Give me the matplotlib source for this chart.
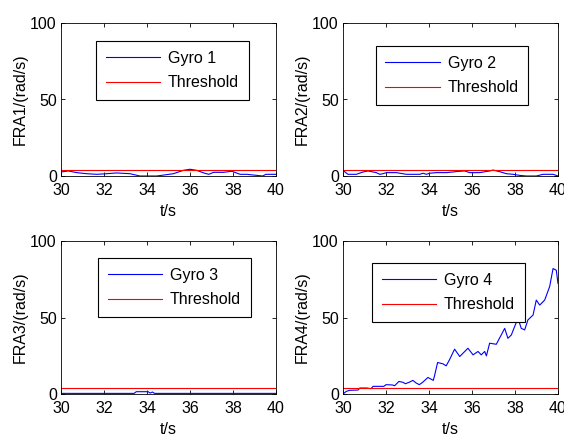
import matplotlib
matplotlib.use("Agg")
import matplotlib.pyplot as plt

plt.rcParams['font.family'] = ['Liberation Sans', 'DejaVu Sans']

threshold = 3.7
t1 = [30.0, 30.34, 30.73, 31.2, 31.66, 32.12, 32.59, 33.21, 33.67, 34.45, 35.23, 35.69, 36.0, 36.31, 36.64, 36.87, 37.1, 37.56, 37.95, 38.33, 38.64, 39.38, 39.53, 40.0]
g1 = [2.6, 3.3, 2.2, 1.5, 1.1, 1.5, 2.0, 1.5, 0.0, 0.0, 1.5, 3.7, 4.4, 3.7, 2.0, 1.1, 2.4, 2.4, 3.1, 1.1, 1.1, 0.0, 1.1, 1.1]
t2 = [30.0, 30.23, 30.62, 30.93, 31.16, 31.55, 31.71, 31.86, 32.02, 32.48, 32.95, 33.57, 33.72, 33.88, 34.03, 34.34, 34.81, 35.43, 35.66, 35.89, 36.36, 36.82, 36.98, 37.29, 37.6, 37.91, 38.22, 38.53, 38.99, 39.3, 39.77, 40.0]
g2 = [3.7, 1.1, 1.1, 2.6, 3.3, 2.2, 1.1, 1.5, 2.2, 2.2, 1.1, 1.1, 1.8, 1.1, 1.8, 2.2, 2.2, 3.1, 3.3, 2.2, 2.2, 3.3, 3.9, 2.8, 1.5, 1.1, 0.4, 0.0, 0.0, 1.1, 1.1, 0.0]
t3 = [30.0, 33.4, 33.5, 34.05, 34.15, 34.25, 34.35, 34.45, 40.0]
g3 = [0.4, 0.4, 1.5, 1.5, 0.6, 1.3, 0.4, 0.4, 0.4]
t4 = [30.0, 30.15, 30.3, 30.7, 30.78, 31.1, 31.3, 31.4, 31.7, 31.9, 32.0, 32.3, 32.4, 32.6, 32.8, 32.9, 33.1, 33.25, 33.4, 33.55, 33.7, 33.95, 34.2, 34.25, 34.4, 34.65, 34.8, 34.95, 35.19, 35.43, 35.81, 36.05, 36.28, 36.43, 36.59, 36.67, 36.82, 37.13, 37.36, 37.52, 37.67, 37.83, 37.98, 38.14, 38.29, 38.45, 38.6, 38.84, 38.99, 39.15, 39.38, 39.61, 39.77, 39.92, 40.0]
g4 = [0.0, 1.7, 2.4, 2.6, 3.9, 3.9, 3.5, 5.0, 5.0, 5.0, 6.1, 5.9, 5.4, 8.2, 7.6, 6.7, 7.8, 8.9, 7.2, 6.1, 7.6, 10.8, 8.9, 11.5, 20.6, 19.7, 18.4, 22.3, 29.3, 24.5, 29.9, 25.6, 27.8, 25.6, 27.8, 24.9, 33.2, 32.5, 38.6, 42.9, 36.4, 38.6, 44.0, 49.5, 42.9, 41.9, 48.4, 51.6, 61.4, 58.1, 61.4, 70.1, 82.0, 80.9, 72.2]

series = [(t1, g1, "Gyro 1", "FRA1/(rad/s)"),
          (t2, g2, "Gyro 2", "FRA2/(rad/s)"),
          (t3, g3, "Gyro 3", "FRA3/(rad/s)"),
          (t4, g4, "Gyro 4", "FRA4/(rad/s)")]
xticks = [30, 32, 34, 36, 38, 40]
yticks = [0, 50, 100]

W, H = 564, 438
fig = plt.figure(figsize=(W / 100, H / 100), dpi=100)
boxes = [(61, 23), (343, 23), (61, 241), (343, 241)]
legpos = [(0.163, 0.882), (0.153, 0.850), (0.172, 0.889), (0.135, 0.856)]
for (t, g, name, ylab), (lx, ty), lp in zip(series, boxes, legpos):
    ax = fig.add_axes([lx / W, 1 - (ty + 153) / H, 215 / W, 153 / H])
    ax.plot(t, g, color='#0000ff', lw=0.8, label=name)
    ax.axhline(threshold, color='#ff0000', lw=0.8, label='Threshold')
    ax.set_xlim(30, 40)
    ax.set_ylim(0, 100)
    ax.set_xticks(xticks)
    ax.set_yticks(yticks)
    ax.tick_params(direction='in', top=True, right=True, length=3, width=0.6,
                   labelsize=11.5)
    ax.tick_params(axis='x', pad=5)
    ax.tick_params(axis='y', pad=3)
    for s in ax.spines.values():
        s.set_linewidth(0.6)
    ax.set_xlabel('t/s', fontsize=11.5, labelpad=4)
    ax.set_ylabel(ylab, fontsize=11.5, labelpad=2)
    leg = ax.legend(loc='upper left', bbox_to_anchor=lp, fontsize=11.5,
                    fancybox=False, edgecolor='black', framealpha=1,
                    handlelength=3.4, handletextpad=0.5, labelspacing=0.6,
                    borderpad=0.6, borderaxespad=0)
    leg.get_frame().set_linewidth(0.8)

fig.savefig('out.png', dpi=100)
